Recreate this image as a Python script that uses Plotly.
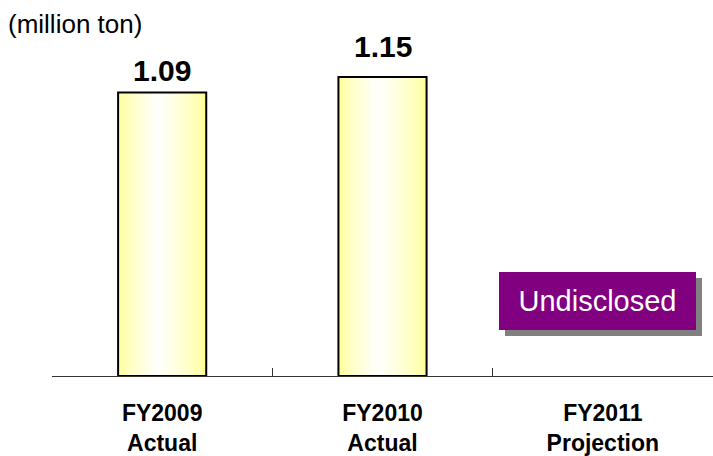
import plotly.graph_objects as go

# Data
categories = ["FY2009 Actual", "FY2010 Actual", "FY2011 Projection"]
tick_labels = ["FY2009<br>Actual", "FY2010<br>Actual", "FY2011<br>Projection"]
volumes = [1.09, 1.15, None]          # million ton; FY2011 not disclosed
value_labels = ["1.09", "1.15", ""]
undisclosed_text = "Undisclosed"

# Styling
FONT = "Arial, 'Liberation Sans', sans-serif"
BAR_W = 0.4
LIGHT_AT = 0.45          # relative position of the brightest part of each bar
N_LAYERS = 24
label_lift = [22, 31, 0]  # px above bar tops for the value labels

fig = go.Figure()

# Horizontal yellow-to-white shading built from stacked, progressively narrower bars
for k in range(N_LAYERS):
    f = k / N_LAYERS
    width = BAR_W * (1 - f)
    offset = -BAR_W / 2 + LIGHT_AT * BAR_W * f
    blue = int(round(150 + 105 * (f ** 0.7)))
    fig.add_trace(go.Bar(
        x=categories, y=volumes,
        width=[width] * len(categories),
        offset=[offset] * len(categories),
        marker=dict(color=f"rgb(255,255,{blue})", line=dict(width=0)),
        hoverinfo="skip", showlegend=False,
    ))

# Bar outlines
fig.add_trace(go.Bar(
    x=categories, y=volumes,
    width=[BAR_W] * len(categories),
    marker=dict(color="rgba(0,0,0,0)", line=dict(color="black", width=2)),
    showlegend=False,
))

annotations = []
for cat, v, lab, lift in zip(categories, volumes, value_labels, label_lift):
    if v is None:
        continue
    annotations.append(dict(
        x=cat, y=v, text=f"<b>{lab}</b>", showarrow=False,
        yanchor="middle", yshift=lift,
        font=dict(family=FONT, size=30, color="black"),
    ))

# "Undisclosed" box with drop shadow for FY2011
box = dict(x=categories[2], y=0.287, xshift=-5, showarrow=False,
           width=197, height=58, borderpad=0, borderwidth=0,
           xanchor="center", yanchor="middle")
annotations.append(dict(box, text=" ", bgcolor="#808080", xshift=1, yshift=-6,
                        font=dict(family=FONT, size=29, color="#808080")))
annotations.append(dict(box, text=undisclosed_text, bgcolor="#800080",
                        font=dict(family=FONT, size=29, color="white")))

# Unit caption
annotations.append(dict(
    text="(million ton)", xref="paper", yref="paper",
    x=-46 / 661, y=1, xanchor="left", yanchor="top", yshift=-7,
    showarrow=False, font=dict(family=FONT, size=26, color="black"),
))

fig.update_layout(
    width=713, height=456,
    margin=dict(l=52, r=0, t=0, b=80),
    paper_bgcolor="white", plot_bgcolor="white",
    barmode="overlay",
    showlegend=False,
    annotations=annotations,
    xaxis=dict(
        type="category",
        categoryorder="array", categoryarray=categories,
        tickvals=categories, ticktext=[f"<b>{t}</b>" for t in tick_labels],
        tickson="boundaries", ticks="inside", ticklen=8, tickcolor="#333",
        showline=True, linecolor="#333", linewidth=1,
        showgrid=False, zeroline=False,
        tickfont=dict(family=FONT, size=23, color="black"),
        ticklabelstandoff=16,
        range=[-0.5, 2.5],
    ),
    yaxis=dict(visible=False, range=[0, 376 / 260], showgrid=False, zeroline=False),
)

fig.write_html("out.html")
